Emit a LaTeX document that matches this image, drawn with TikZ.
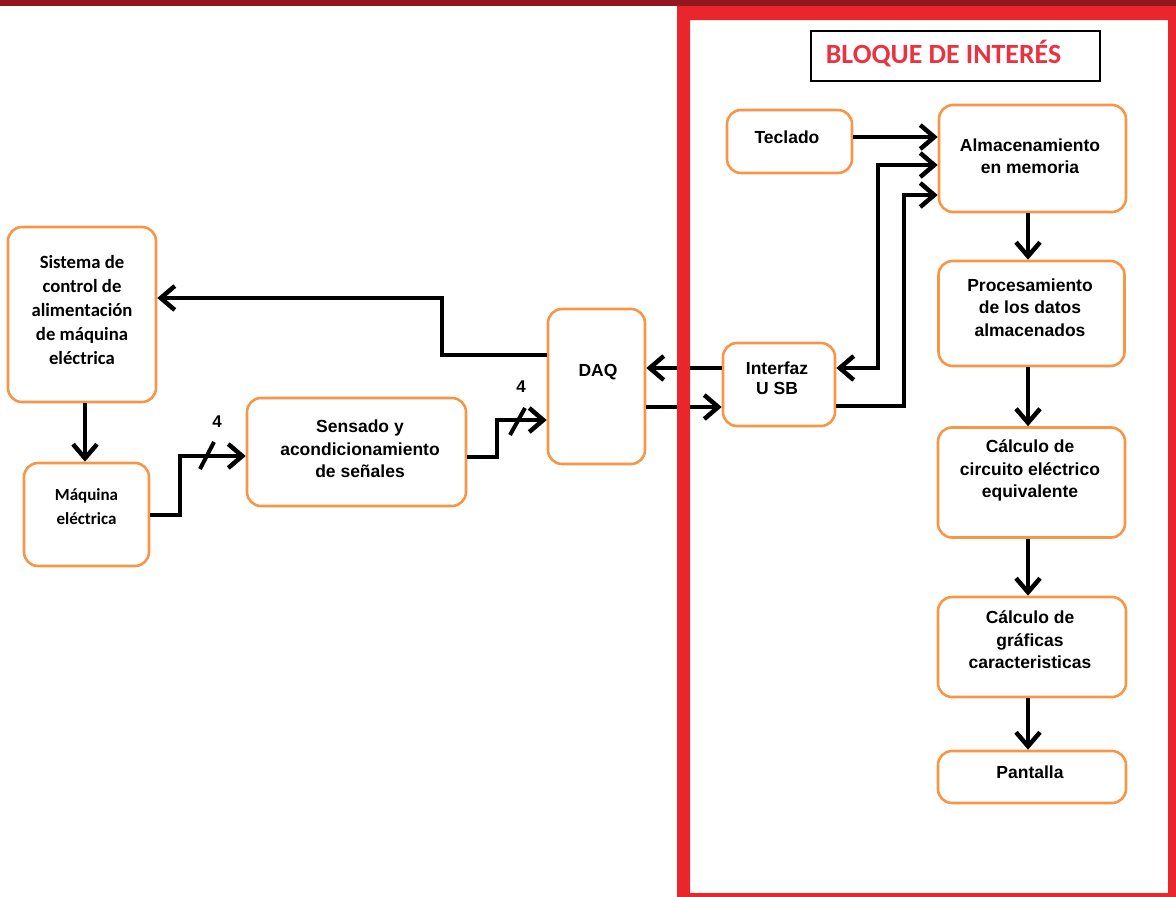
\documentclass[tikz,border=0pt]{standalone}
\usepackage{fontspec}
\setmainfont{Liberation Sans}
\newfontfamily\calibrifont{Carlito}
\usetikzlibrary{arrows.meta}
\definecolor{boxorange}{HTML}{F79646}
\definecolor{framered}{HTML}{E8262B}
\definecolor{barred}{HTML}{94161F}
\definecolor{titlered}{HTML}{EA3340}
\begin{document}
\begin{tikzpicture}[x=1pt,y=-1pt,
  block/.style={draw=boxorange, line width=2.6pt, rounded corners=14pt, fill=white, inner sep=0pt},
  txt/.style={font=\fontsize{17.5}{22.5}\selectfont\bfseries, align=center, inner sep=0pt},
  caltxt/.style={font=\calibrifont\fontsize{17}{24}\selectfont\bfseries, align=center, inner sep=0pt},
  conn/.style={line width=4.5pt, draw=black, >={Straight Barb[length=14pt,width=24pt]}},
  busmark/.style={line width=4pt, draw=black},
]
\useasboundingbox (0,0) rectangle (1176,897);

% top band
\fill[barred] (0,0) rectangle (1176,6);

% blocks
\node[block, minimum width=148pt, minimum height=175pt] (sis) at (82,314.5) {};
\node[block, minimum width=125pt, minimum height=103pt] (maq) at (86.5,514.5) {};
\node[block, minimum width=219pt, minimum height=108pt] (sen) at (356.5,452) {};
\node[block, minimum width=97pt, minimum height=155pt] (daq) at (596.5,386.5) {};
\node[block, minimum width=112pt, minimum height=83pt] (usb) at (779,384.5) {};
\node[block, minimum width=125pt, minimum height=63pt] (tec) at (789.5,141.5) {};
\node[block, minimum width=187pt, minimum height=107pt] (alm) at (1032.5,158.5) {};
\node[block, minimum width=186pt, minimum height=105pt] (pro) at (1031.5,313.5) {};
\node[block, minimum width=187pt, minimum height=110pt] (cir) at (1031.5,482.5) {};
\node[block, minimum width=188pt, minimum height=100pt] (gra) at (1032,647) {};
\node[block, minimum width=188pt, minimum height=52pt] (pan) at (1032,777) {};

% connectors
\draw[conn,->] (daq.west |- 0,355) -| (442,298) -- (sis.east |- 0,298);
\draw[conn,->] (sis.south -| 85,0) -- (maq.north -| 85,0);
\draw[conn,->] (maq.east |- 0,515) -| (180,456) -- (sen.west |- 0,456);
\draw[conn,->] (sen.east |- 0,457) -| (497,420) -- (daq.west |- 0,420);
\draw[conn,->] (usb.west |- 0,368) -- (daq.east |- 0,368);
\draw[conn,->] (daq.east |- 0,407) -- (usb.west |- 0,407);
\draw[conn,<->] (usb.east |- 0,368) -| (878,165) -- (alm.west |- 0,165);
\draw[conn,->] (usb.east |- 0,406) -| (904,195) -- (alm.west |- 0,195);
\draw[conn,->] (tec.east |- 0,137) -- (alm.west |- 0,137);
\draw[conn,->] (alm.south -| 1028,0) -- (pro.north -| 1028,0);
\draw[conn,->] (pro.south -| 1028,0) -- (cir.north -| 1028,0);
\draw[conn,->] (cir.south -| 1028,0) -- (gra.north -| 1028,0);
\draw[conn,->] (gra.south -| 1028,0) -- (pan.north -| 1028,0);

% bus width marks
\draw[busmark] (200,469) -- (214,442);
\draw[busmark] (510,435) -- (525,408);
\node[txt, font=\fontsize{17}{18}\selectfont\bfseries] (bus-a) at (217,422) {4};
\node[txt, font=\fontsize{17}{18}\selectfont\bfseries] (bus-b) at (521,387) {4};

% frame of the block of interest
\fill[framered, even odd rule] (677,6) rectangle (1176,897) (690,20) rectangle (1168,893);

% title
\node[draw=black, line width=1.5pt, minimum width=289pt, minimum height=50pt, inner sep=0pt] (title-box) at (955.5,56) {};
\node[font=\calibrifont\fontsize{27.8}{30}\selectfont\bfseries, text=titlered, inner sep=0pt] (title) at (943.5,54) {BLOQUE DE INTERÉS};

% labels
\node[caltxt, font=\calibrifont\fontsize{18.7}{24}\selectfont\bfseries] (sis-t) at (82,310) {Sistema de\\control de\\alimentación\\de máquina\\eléctrica};
\node[caltxt] (maq-t) at (86.5,506.5) {Máquina\\eléctrica};
\node[txt] (sen-t) at (360,449) {Sensado y\\acondicionamiento\\de señales};
\node[txt] (daq-t) at (598,372) {DAQ};
\node[txt, font=\fontsize{17.5}{20}\selectfont\bfseries] (usb-t) at (777,378) {Interfaz\\U SB};
\node[txt] (tec-t) at (787,137) {Teclado};
\node[txt] (alm-t) at (1030,156) {Almacenamiento\\en memoria};
\node[txt] (pro-t) at (1030,307.5) {Procesamiento\\de los datos\\almacenados};
\node[txt] (cir-t) at (1030,470.5) {Cálculo de\\circuito eléctrico\\equivalente};
\node[txt] (gra-t) at (1030,640) {Cálculo de\\gráficas\\caracteristicas};
\node[txt] (pan-t) at (1030,772) {Pantalla};
\end{tikzpicture}
\end{document}
